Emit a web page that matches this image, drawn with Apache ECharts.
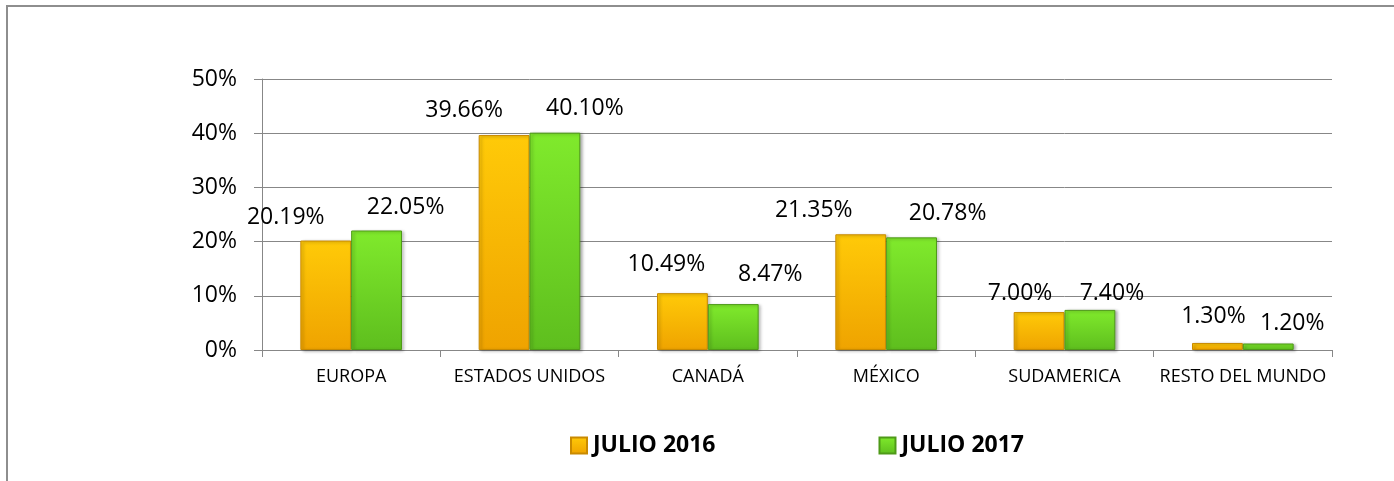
<!DOCTYPE html>
<html>
<head>
<meta charset="utf-8">
<script src="https://cdn.jsdelivr.net/npm/echarts@6/dist/echarts.min.js"></script>
<style>
html,body{margin:0;padding:0;background:#fff;}
#chart{width:1394px;height:481px;}
</style>
</head>
<body>
<div id="chart"></div>
<script>
const categories = ['EUROPA', 'ESTADOS UNIDOS', 'CANADÁ', 'MÉXICO', 'SUDAMERICA', 'RESTO DEL MUNDO'];
const seriesNames = ['JULIO 2016', 'JULIO 2017'];
const julio2016 = [20.19, 39.66, 10.49, 21.35, 7.00, 1.30];
const julio2017 = [22.05, 40.10, 8.47, 20.78, 7.40, 1.20];
const yTicks = [0, 10, 20, 30, 40, 50];

// label placement tweaks (manually moved labels in the original)
const shift2016 = [[-40, 0], [-40, -1], [-16, -5], [-47, 0], [-19, 5], [-4, -3]];
const shift2017 = [[29, 0], [30, -1], [37, -6], [36, 0], [22, 7], [24, 3]];

const FONT = '"Open Sans", "Liberation Sans", sans-serif';
const gridColor = '#878787';

function grad(top, bottom) {
  return new echarts.graphic.LinearGradient(0, 0, 0, 1, [
    { offset: 0, color: top },
    { offset: 1, color: bottom }
  ]);
}

function makeData(values, shifts) {
  return values.map((v, i) => ({
    value: v,
    label: { offset: shifts[i] }
  }));
}

const labelStyle = {
  show: true,
  position: 'top',
  distance: 12,
  fontFamily: FONT,
  fontSize: 23,
  color: '#000',
  formatter: p => p.value.toFixed(2) + '%'
};

const chart = echarts.init(document.getElementById('chart'), null, { renderer: 'canvas' });
chart.setOption({
  animation: false,
  backgroundColor: '#fff',
  graphic: [{
    type: 'rect',
    shape: { x: 7, y: 6, width: 1400, height: 500 },
    style: { fill: 'none', stroke: '#8e8e8e', lineWidth: 2 },
    silent: true,
    z: -1
  }],
  grid: { left: 262, right: 62, top: 79, bottom: 131 },
  legend: {
    data: seriesNames.map(n => ({ name: n, icon: 'rect' })),
    left: 565,
    top: 429,
    itemWidth: 16,
    itemHeight: 16,
    itemGap: 163,
    textStyle: { fontFamily: FONT, fontSize: 23, fontWeight: 'bold', color: '#000', padding: [0, 0, 0, 1] }
  },
  xAxis: {
    type: 'category',
    data: categories,
    axisLine: { lineStyle: { color: gridColor, width: 1 } },
    axisTick: { show: true, length: 7, lineStyle: { color: gridColor } },
    axisLabel: { fontFamily: FONT, fontSize: 18, color: '#000', margin: 18, interval: 0 }
  },
  yAxis: {
    type: 'value',
    min: yTicks[0],
    max: yTicks[yTicks.length - 1],
    interval: 10,
    axisLine: { show: true, lineStyle: { color: gridColor, width: 1 } },
    axisTick: { show: true, length: 8, lineStyle: { color: gridColor } },
    splitLine: { lineStyle: { color: gridColor, width: 1 } },
    axisLabel: { fontFamily: FONT, fontSize: 23, color: '#000', margin: 25, formatter: '{value}%' }
  },
  series: [
    {
      name: seriesNames[0],
      type: 'bar',
      data: makeData(julio2016, shift2016),
      barGap: '0%',
      barCategoryGap: '43%',
      itemStyle: {
        color: grad('#FFCA08', '#EFA300'),
        borderColor: '#C98A00',
        borderWidth: 1,
        shadowColor: 'rgba(0,0,0,0.3)',
        shadowBlur: 3,
        shadowOffsetX: 2,
        shadowOffsetY: 1
      },
      label: labelStyle
    },
    {
      name: seriesNames[1],
      type: 'bar',
      data: makeData(julio2017, shift2017),
      barGap: '0%',
      barCategoryGap: '43%',
      itemStyle: {
        color: grad('#80EA2C', '#5EBE1E'),
        borderColor: '#4E9A18',
        borderWidth: 1,
        shadowColor: 'rgba(0,0,0,0.3)',
        shadowBlur: 3,
        shadowOffsetX: 2,
        shadowOffsetY: 1
      },
      label: labelStyle
    }
  ]
});
</script>
</body>
</html>
